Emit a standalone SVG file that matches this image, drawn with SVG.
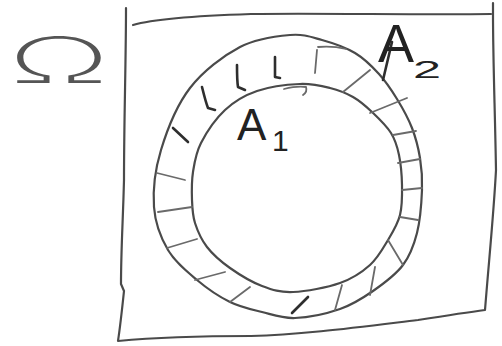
<svg xmlns="http://www.w3.org/2000/svg" width="502" height="346" viewBox="0 0 502 346">
<style>
.ln{fill:none;stroke:#4a4a4a;stroke-width:2.2;stroke-linecap:round;stroke-linejoin:round}
.ht{fill:none;stroke:#6a6a6a;stroke-width:1.8;stroke-linecap:round}
.hd{fill:none;stroke:#2e2e2e;stroke-width:2.6;stroke-linecap:round;stroke-linejoin:round}
.lb{font-family:"Liberation Sans",Arial,sans-serif;fill:#222}
.om{font-family:"Inter","Open Sans",sans-serif;font-weight:200;fill:#555}
</style>
<rect width="502" height="346" fill="#fff"/>
<g id="omega">
<text class="om" font-size="64" text-anchor="middle" transform="translate(59,83) scale(2.1,1)">Ω</text>
</g>
<g id="domain">
<path class="ln" d="M126,8 C126,60 124,120 124,180 C123,220 121,250 121,284 L124,291 C122,310 120,328 118,341 C160,337 210,336 251,336 C300,335 360,327 418,320 C450,315 470,312 485,310 C489,260 494,210 496,170 C495,110 493,60 493,14 L493,3"/>
<path class="ln" d="M133,25 C150,20 190,16 251,14 C320,13 420,15 491,14"/>
</g>
<g id="ring-outer">
<path class="ln" d="M290,35 C303.7,33.8 311.2,37 322,40 C332.8,43 345.5,47.3 355,53 C364.5,58.7 372,66.3 379,74 C386,81.7 391.5,90 397,99 C402.5,108 408.2,118.2 412,128 C415.8,137.8 418.3,147.7 420,158 C421.7,168.3 422.5,177.5 422,190 C421.5,202.5 420.2,220.5 417,233 C413.8,245.5 410.3,255.3 403,265 C395.7,274.7 383.5,283.7 373,291 C362.5,298.3 353,304.5 340,309 C327,313.5 308,317.5 295,318 C282,318.5 272.8,314.7 262,312 C251.2,309.3 240.8,307.3 230,302 C219.2,296.7 207.3,288.7 197,280 C186.7,271.3 175.2,262.2 168,250 C160.8,237.8 155.2,223.7 154,207 C152.8,190.3 155,169.8 161,150 C167,130.2 176.8,105.2 190,88 C203.2,70.8 223.3,55.8 240,47 C256.7,38.2 276.3,36.2 290,35 Z"/>
</g>
<g id="A1-region">
<path class="ln" d="M300,84 C312.2,83.5 321.2,85.8 330,88 C338.8,90.2 346,93 353,97 C360,101 365.7,106 372,112 C378.3,118 386.5,125.8 391,133 C395.5,140.2 397.2,146.3 399,155 C400.8,163.7 401.8,175 402,185 C402.2,195 402.3,205.8 400,215 C397.7,224.2 393,231.7 388,240 C383,248.3 378,257.8 370,265 C362,272.2 352.8,278.5 340,283 C327.2,287.5 306,291.5 293,292 C280,292.5 272.5,290 262,286 C251.5,282 239.2,274.5 230,268 C220.8,261.5 212.8,254.5 207,247 C201.2,239.5 197.5,230.8 195,223 C192.5,215.2 192.3,208.5 192,200 C191.7,191.5 191.5,181.5 193,172 C194.5,162.5 195.7,153.3 201,143 C206.3,132.7 215.7,118.7 225,110 C234.3,101.3 244.5,95.3 257,91 C269.5,86.7 287.8,84.5 300,84 Z"/>
<path class="ht" d="M284,89 C292,87 300,86 306,87 C307,90 306,93 303,95"/>
<text class="lb" x="237" y="140" font-size="44">A</text>
<text class="lb" x="272" y="151" font-size="30">1</text>
</g>
<g id="A2-region">
<path class="hd" d="M173,128 L188,142"/>
<path class="hd" d="M202,87 C204,95 206,103 208,108 L215,110"/>
<path class="hd" d="M237,65 C237,73 237,81 238,87 L245,90"/>
<path class="hd" d="M275,57 C275,64 275,71 275,77 L280,78"/>
<path class="ht" d="M317,50 L315,73"/>
<path class="ht" d="M318,47 C328,46 338,47 346,49"/>
<path class="ht" d="M343,92 L370,70"/>
<path class="ht" d="M370,113 L407,98"/>
<path class="ht" d="M393,135 L416,131"/>
<path class="ht" d="M398,163 L420,159"/>
<path class="ht" d="M402,190 L422,188"/>
<path class="ht" d="M400,217 L418,220"/>
<path class="ht" d="M388,240 L403,265"/>
<path class="ht" d="M375,267 L370,295"/>
<path class="ht" d="M342,285 L335,310"/>
<path class="hd" d="M308,297 L292,313"/>
<path class="ht" d="M157,173 L185,180"/>
<path class="ht" d="M158,212 L192,207"/>
<path class="ht" d="M167,248 L197,239"/>
<path class="ht" d="M195,280 L225,272"/>
<path class="ht" d="M230,302 L250,287"/>
<path class="hd" d="M392,42 L383,80"/>
<text class="lb" x="378" y="62" font-size="54">A</text>
<text class="lb" font-size="28" transform="translate(413,78) scale(1.8,0.85)">2</text>
</g>
</svg>
